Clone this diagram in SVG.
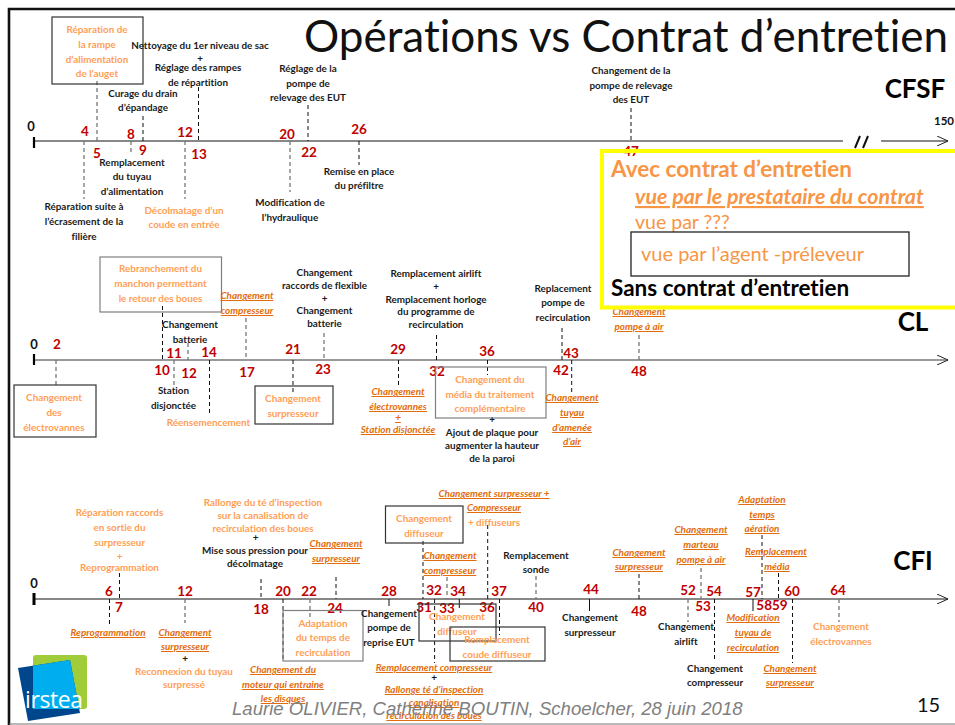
<svg xmlns="http://www.w3.org/2000/svg" width="955" height="725" viewBox="0 0 955 725">
<style>
text{font-family:Lato,"Liberation Sans",sans-serif;font-variant-ligatures:none}
.t{text-anchor:middle;font-size:9.9px;font-weight:700}
.b{fill:#1a1a1a}
.o{fill:#ff9e55}
.u{fill:#e36c0a;font-style:italic;text-decoration:underline}
.n{text-anchor:middle;font-size:13.5px;font-weight:700;fill:#c00000}
.z{text-anchor:middle;font-size:13px;font-weight:700;fill:#111}
.h{font-size:26px;font-weight:700;fill:#000;text-anchor:middle}
.box{fill:none;stroke:#333;stroke-width:1.2}
.g{stroke:#7f7f7f}
.d{fill:none;stroke:#111;stroke-width:1;stroke-dasharray:4 3}
.dg{fill:none;stroke:#777;stroke-width:1.3;stroke-dasharray:4 3}
.ax{fill:none;stroke:#111;stroke-width:1}
</style>
<defs><marker id="arr" markerWidth="12" markerHeight="10" refX="11" refY="5" orient="auto" markerUnits="userSpaceOnUse"><path d="M0 0L11 5L0 10" fill="none" stroke="#222" stroke-width="1"/></marker></defs>
<rect width="955" height="725" fill="#fff"/>
<g id="frame">
<path d="M9 725V9H955" fill="none" stroke="#111" stroke-width="2.6"/>
<path d="M9 724H955" fill="none" stroke="#777" stroke-width="1.2"/>
</g>
<text id="title" x="304" y="52" font-size="44" fill="#111">Opérations vs Contrat d’entretien</text>

<g id="axes">
<path class="ax" d="M34 141H843"/><path class="ax" d="M881 141H948" marker-end="url(#arr)"/>
<path d="M34 137V148" stroke="#000" stroke-width="2.2"/>
<path d="M855 148L860 136M863 148L868 136" stroke="#111" stroke-width="2"/>
<path d="M34 360H948" fill="none" stroke="#777" stroke-width="1.4" marker-end="url(#arr)"/>
<path d="M34 354V365" stroke="#000" stroke-width="2.2"/>
<path class="ax" d="M34 599H948" stroke-width="1.2" marker-end="url(#arr)"/>
<path d="M34 593V605" stroke="#000" stroke-width="3"/>
</g>

<g id="connectors">
<path class="dg" d="M97 81V141M84 141V199M131 141V155M185 141V199M290 141V192"/>
<path class="d" d="M143 116V141M198.500 87V141M308 105V141M359 141V165M631 108V141"/>
<path class="dg" d="M56 360V385M174 360V386M188 343V360M246 318V360M324 333V360M639 335V360"/>
<path class="d" d="M162.500 306V360M209.500 360V415M293 360V392M398.500 360V386M436.500 335V360M487.500 360V375M562 328V360M571.700 360V395"/>
<path class="d" d="M119.500 573V599M109.500 599V625M261 579V599M283 599V661M336 577V599M423 541V599M434.600 599V663M487.700 525V599M499.500 599V635M639 574V599M714.500 599V659M762 535V599M778.500 573V599M792.500 599V663"/>
<path class="dg" d="M185 599V623M310 599V617M447 577V599M536 576V599M688 599V622M701 568V599M839 599V622"/>
<path class="ax" d="M389 599V606M459.300 599V608M589.500 599V611M753 599V611"/>
</g>

<g id="cfsf-nums">
<text class="z" x="31" y="131">0</text>
<text class="z" x="944" y="125" style="font-size:11.500px">150</text>
<text class="n" x="85" y="136">4</text><text class="n" x="97" y="158">5</text><text class="n" x="131" y="139">8</text><text class="n" x="143" y="155">9</text><text class="n" x="185" y="137">12</text><text class="n" x="199" y="159">13</text><text class="n" x="287" y="139">20</text><text class="n" x="309" y="157">22</text><text class="n" x="359" y="134">26</text>
</g>
<g id="n1"><rect class="box" x="52" y="17" width="91" height="67"/><text class="t o"><tspan x="97" y="33">Réparation de</tspan><tspan x="97" y="48">la rampe</tspan><tspan x="97" y="63">d’alimentation</tspan><tspan x="97" y="77">de l’auget</tspan></text></g>
<g id="n2"><text class="t b"><tspan x="200" y="49">Nettoyage du 1er niveau de sac</tspan><tspan x="200" y="62">+</tspan><tspan x="198" y="71">Réglage des rampes</tspan><tspan x="198" y="86">de répartition</tspan></text></g>
<g id="n3"><text class="t b"><tspan x="143" y="97">Curage du drain</tspan><tspan x="143" y="111">d’épandage</tspan></text></g>
<g id="n4"><text class="t b"><tspan x="308" y="72">Réglage de la</tspan><tspan x="308" y="87">pompe de</tspan><tspan x="308" y="101">relevage des EUT</tspan></text></g>
<g id="n5"><text class="t b"><tspan x="132" y="166">Remplacement</tspan><tspan x="132" y="180">du tuyau</tspan><tspan x="132" y="195">d’alimentation</tspan></text></g>
<g id="n6"><text class="t b"><tspan x="84" y="210">Réparation suite à</tspan><tspan x="84" y="225">l’écrasement de la</tspan><tspan x="84" y="240">filière</tspan></text></g>
<g id="n7"><text class="t o"><tspan x="184" y="214">Décolmatage d’un</tspan><tspan x="184" y="228">coude en entrée</tspan></text></g>
<g id="n8"><text class="t b"><tspan x="290" y="206">Modification de</tspan><tspan x="290" y="221">l’hydraulique</tspan></text></g>
<g id="n9"><text class="t b"><tspan x="359" y="175">Remise en place</tspan><tspan x="359" y="189">du préfiltre</tspan></text></g>
<g id="n10"><text class="t b"><tspan x="631" y="74">Changement de la</tspan><tspan x="631" y="89">pompe de relevage</tspan><tspan x="631" y="103">des EUT</tspan></text></g>
<text class="h" x="915" y="98">CFSF</text>

<g id="cl-nums">
<text class="z" x="34" y="349">0</text>
<text class="n" x="57" y="349">2</text><text class="n" x="162" y="375">10</text><text class="n" x="174" y="358">11</text><text class="n" x="189" y="378">12</text><text class="n" x="209" y="357">14</text><text class="n" x="247" y="377">17</text><text class="n" x="293" y="354">21</text><text class="n" x="323" y="374">23</text><text class="n" x="398" y="354">29</text><text class="n" x="437" y="376">32</text><text class="n" x="487" y="356">36</text><text class="n" x="561" y="375">42</text><text class="n" x="571" y="358">43</text><text class="n" x="639" y="376">48</text>
</g>
<g id="c1"><rect class="box g" x="100" y="257" width="121.500" height="55"/><text class="t o"><tspan x="160.500" y="272">Rebranchement du</tspan><tspan x="160.500" y="287">manchon permettant</tspan><tspan x="160.500" y="302">le retour des boues</tspan></text></g>
<g id="c2"><rect class="box" x="14" y="385" width="82" height="52"/><text class="t o"><tspan x="54" y="401">Changement</tspan><tspan x="54" y="416">des</tspan><tspan x="54" y="431">électrovannes</tspan></text></g>
<g id="c3"><rect class="box" x="255" y="386" width="78" height="38"/><text class="t o"><tspan x="293" y="402">Changement</tspan><tspan x="293" y="417">surpresseur</tspan></text></g>
<g id="c4"><rect class="box g" x="435.500" y="367" width="110.500" height="51"/><text class="t o"><tspan x="490" y="383">Changement du</tspan><tspan x="490" y="398">média du traitement</tspan><tspan x="490" y="412">complémentaire</tspan></text></g>
<g id="c5"><text class="t u"><tspan x="247" y="299">Changement</tspan><tspan x="247" y="314">compresseur</tspan></text></g>
<g id="c6"><text class="t b"><tspan x="190" y="328">Changement</tspan><tspan x="190" y="343">batterie</tspan></text></g>
<g id="c7"><text class="t b"><tspan x="173.500" y="394">Station</tspan><tspan x="173.500" y="409">disjonctée</tspan></text></g>
<g id="c8"><text class="t o"><tspan x="208.500" y="426">Réensemencement</tspan></text></g>
<g id="c9"><text class="t b"><tspan x="324.500" y="276">Changement</tspan><tspan x="324.500" y="289">raccords de flexible</tspan><tspan x="324.500" y="302">+</tspan><tspan x="324.500" y="314">Changement</tspan><tspan x="324.500" y="327">batterie</tspan></text></g>
<g id="c10"><text class="t b"><tspan x="436" y="277">Remplacement airlift</tspan><tspan x="436" y="290">+</tspan><tspan x="436" y="303">Remplacement horloge</tspan><tspan x="436" y="315">du programme de</tspan><tspan x="436" y="328">recirculation</tspan></text></g>
<g id="c11"><text class="t b"><tspan x="563" y="292">Replacement</tspan><tspan x="563" y="306">pompe de</tspan><tspan x="563" y="321">recirculation</tspan></text></g>
<g id="c12"><text class="t u"><tspan x="639" y="315">Changement</tspan><tspan x="639" y="330">pompe à air</tspan></text></g>
<g id="c13"><text class="t u"><tspan x="398" y="395">Changement</tspan><tspan x="398" y="410">électrovannes</tspan><tspan x="398" y="421">+</tspan><tspan x="398" y="433">Station  disjonctée</tspan></text></g>
<g id="c14"><text class="t b"><tspan x="492" y="423">+</tspan><tspan x="492" y="436">Ajout de plaque pour</tspan><tspan x="492" y="449">augmenter la hauteur</tspan><tspan x="492" y="462">de la paroi</tspan></text></g>
<g id="c15"><text class="t u"><tspan x="572" y="401">Changement</tspan><tspan x="572" y="416">tuyau</tspan><tspan x="572" y="431">d’amenée</tspan><tspan x="572" y="445">d’air</tspan></text></g>
<text class="h" x="913" y="331">CL</text>

<g id="cfi-nums">
<text class="z" x="34" y="588">0</text>
<text class="n" x="109" y="596">6</text><text class="n" x="119" y="612">7</text><text class="n" x="185" y="596">12</text><text class="n" x="261" y="614">18</text><text class="n" x="283" y="596">20</text><text class="n" x="309" y="596">22</text><text class="n" x="335" y="613">24</text><text class="n" x="389" y="596">28</text><text class="n" x="434" y="595">32</text><text class="n" x="424" y="612">31</text><text class="n" x="447" y="613">33</text><text class="n" x="458" y="596">34</text><text class="n" x="487" y="612">36</text><text class="n" x="499" y="596">37</text><text class="n" x="536" y="612">40</text><text class="n" x="591" y="594">44</text><text class="n" x="639" y="616">48</text><text class="n" x="688" y="595">52</text><text class="n" x="703" y="611">53</text><text class="n" x="714" y="596">54</text><text class="n" x="753" y="597">57</text><text class="n" x="772" y="610">5859</text><text class="n" x="792" y="596">60</text><text class="n" x="838" y="595">64</text>
</g>
<g id="f1"><text class="t o"><tspan x="119.500" y="516">Réparation raccords</tspan><tspan x="119.500" y="531">en sortie du</tspan><tspan x="119.500" y="546">surpresseur</tspan><tspan x="119.500" y="560">+</tspan><tspan x="119.500" y="571">Reprogrammation</tspan></text></g>
<g id="f2"><text class="t u"><tspan x="108" y="636">Reprogrammation</tspan></text></g>
<g id="f3"><text class="t u"><tspan x="185" y="636">Changement</tspan><tspan x="185" y="650">surpresseur</tspan></text><text class="t b" x="185" y="662">+</text><text class="t o"><tspan x="184" y="675">Reconnexion du tuyau</tspan><tspan x="184" y="688">surpressé</tspan></text></g>
<g id="f4"><text class="t o"><tspan x="263" y="506">Rallonge du té d’inspection</tspan><tspan x="263" y="519">sur la canalisation de</tspan><tspan x="263" y="532">recirculation des boues</tspan></text><text class="t b"><tspan x="255.500" y="541">+</tspan><tspan x="255" y="554">Mise sous pression pour</tspan><tspan x="255" y="567">décolmatage</tspan></text></g>
<g id="f5"><text class="t u"><tspan x="336" y="547">Changement</tspan><tspan x="336" y="562">surpresseur</tspan></text></g>
<g id="f6"><rect class="box g" x="283" y="610.500" width="80" height="50.500"/><text class="t o"><tspan x="323" y="627">Adaptation</tspan><tspan x="323" y="641">du temps de</tspan><tspan x="323" y="656">recirculation</tspan></text></g>
<g id="f7"><text class="t u"><tspan x="283" y="673">Changement  du</tspan><tspan x="283" y="688">moteur qui entraine</tspan><tspan x="283" y="702">les disques</tspan></text></g>
<g id="f8"><rect class="box" x="385.500" y="506" width="77.500" height="37"/><text class="t o"><tspan x="424" y="522">Changement</tspan><tspan x="424" y="537">diffuseur</tspan></text></g>
<g id="f9"><text class="t u"><tspan x="494" y="497">Changement  surpresseur +</tspan><tspan x="494" y="511">Compresseur</tspan></text><text class="t o" x="494" y="526">+ diffuseurs</text></g>
<g id="f10"><text class="t u"><tspan x="450" y="559">Changement</tspan><tspan x="450" y="574">compresseur</tspan></text></g>
<g id="f11"><text class="t b"><tspan x="536" y="559">Remplacement</tspan><tspan x="536" y="573">sonde</tspan></text></g>
<g id="f12"><text class="t b"><tspan x="389" y="617">Changement</tspan><tspan x="389" y="631">pompe de</tspan><tspan x="389" y="646">reprise EUT</tspan></text></g>
<g id="f13"><rect class="box" x="419" y="604" width="77" height="37"/><text class="t o"><tspan x="457" y="620">Changement</tspan><tspan x="457" y="635">diffuseur</tspan></text></g>
<g id="f14"><rect class="box" x="450" y="627" width="95" height="34"/><text class="t o"><tspan x="497" y="643">Remplacement</tspan><tspan x="497" y="658">coude diffuseur</tspan></text></g>
<g id="f15"><text class="t u"><tspan x="434" y="671">Remplacement compresseur</tspan></text><text class="t b" x="434" y="681">+</text><text class="t u"><tspan x="434" y="693">Rallonge té d’inspection</tspan><tspan x="434" y="706">canalisation</tspan><tspan x="434" y="719">recirculation des boues</tspan></text></g>
<g id="f16"><text class="t b"><tspan x="590" y="621">Changement</tspan><tspan x="590" y="636">surpresseur</tspan></text></g>
<g id="f17"><text class="t u"><tspan x="639" y="556">Changement</tspan><tspan x="639" y="570">surpresseur</tspan></text></g>
<g id="f18"><text class="t u"><tspan x="701" y="533">Changement</tspan><tspan x="701" y="548">marteau</tspan><tspan x="701" y="563">pompe à air</tspan></text></g>
<g id="f19"><text class="t b"><tspan x="686" y="630">Changement</tspan><tspan x="686" y="645">airlift</tspan></text></g>
<g id="f20"><text class="t b"><tspan x="715" y="672">Changement</tspan><tspan x="715" y="686">compresseur</tspan></text></g>
<g id="f21"><text class="t u"><tspan x="753" y="621">Modification</tspan><tspan x="753" y="636">tuyau de</tspan><tspan x="753" y="651">recirculation</tspan></text></g>
<g id="f22"><text class="t u"><tspan x="762" y="503">Adaptation</tspan><tspan x="762" y="518">temps</tspan><tspan x="762" y="532">aération</tspan></text></g>
<g id="f23"><text class="t u"><tspan x="776" y="555">Remplacement</tspan><tspan x="777" y="570">média</tspan></text></g>
<g id="f24"><text class="t u"><tspan x="790" y="672">Changement</tspan><tspan x="790" y="686">surpresseur</tspan></text></g>
<g id="f25"><text class="t o"><tspan x="841" y="630">Changement</tspan><tspan x="841" y="645">électrovannes</tspan></text></g>
<text class="h" x="913" y="570">CFI</text>

<g id="legend">
<rect x="602" y="151" width="360" height="155" fill="#fff"/>
<text class="n" x="631" y="156">47</text>
<path d="M970 151H602V307.500H970" fill="none" stroke="#ffff00" stroke-width="4"/>
<text x="611" y="177" font-size="22.500" font-weight="700" fill="#f79646">Avec contrat d’entretien</text>
<text x="635" y="204" font-size="21.400" font-weight="700" font-style="italic" fill="#f79646" text-decoration="underline">vue par le prestataire du contrat</text>
<text x="635" y="229" font-size="19.500" fill="#f79646">vue par ???</text>
<rect x="631" y="232" width="278" height="44" fill="none" stroke="#222" stroke-width="1.3"/>
<text x="641" y="261" font-size="20" fill="#f79646">vue par l’agent -préleveur</text>
<text x="611" y="296" font-size="22.500" font-weight="700" fill="#000">Sans contrat d’entretien</text>
</g>

<g id="logo">
<rect x="33" y="655" width="54" height="54" rx="3" fill="#a0cc3a"/>
<path d="M18 668L70 660L80 713L28 721Z" fill="#00468c"/>
<path d="M33 665.700L70 660L78 702L80 709H33Z" fill="#00aeef"/>
<text x="25" y="708" font-size="23" fill="#fff" style="font-family:'Open Sans',sans-serif" textLength="58">irstea</text>
</g>
<text id="footer" x="232" y="715" font-size="18.600" font-style="italic" fill="#808080" style="font-family:'Liberation Sans',sans-serif">Laurie OLIVIER, Catherine BOUTIN, Schoelcher, 28 juin 2018</text>
<text id="page" x="917" y="712" font-size="20" fill="#111">15</text>
</svg>
